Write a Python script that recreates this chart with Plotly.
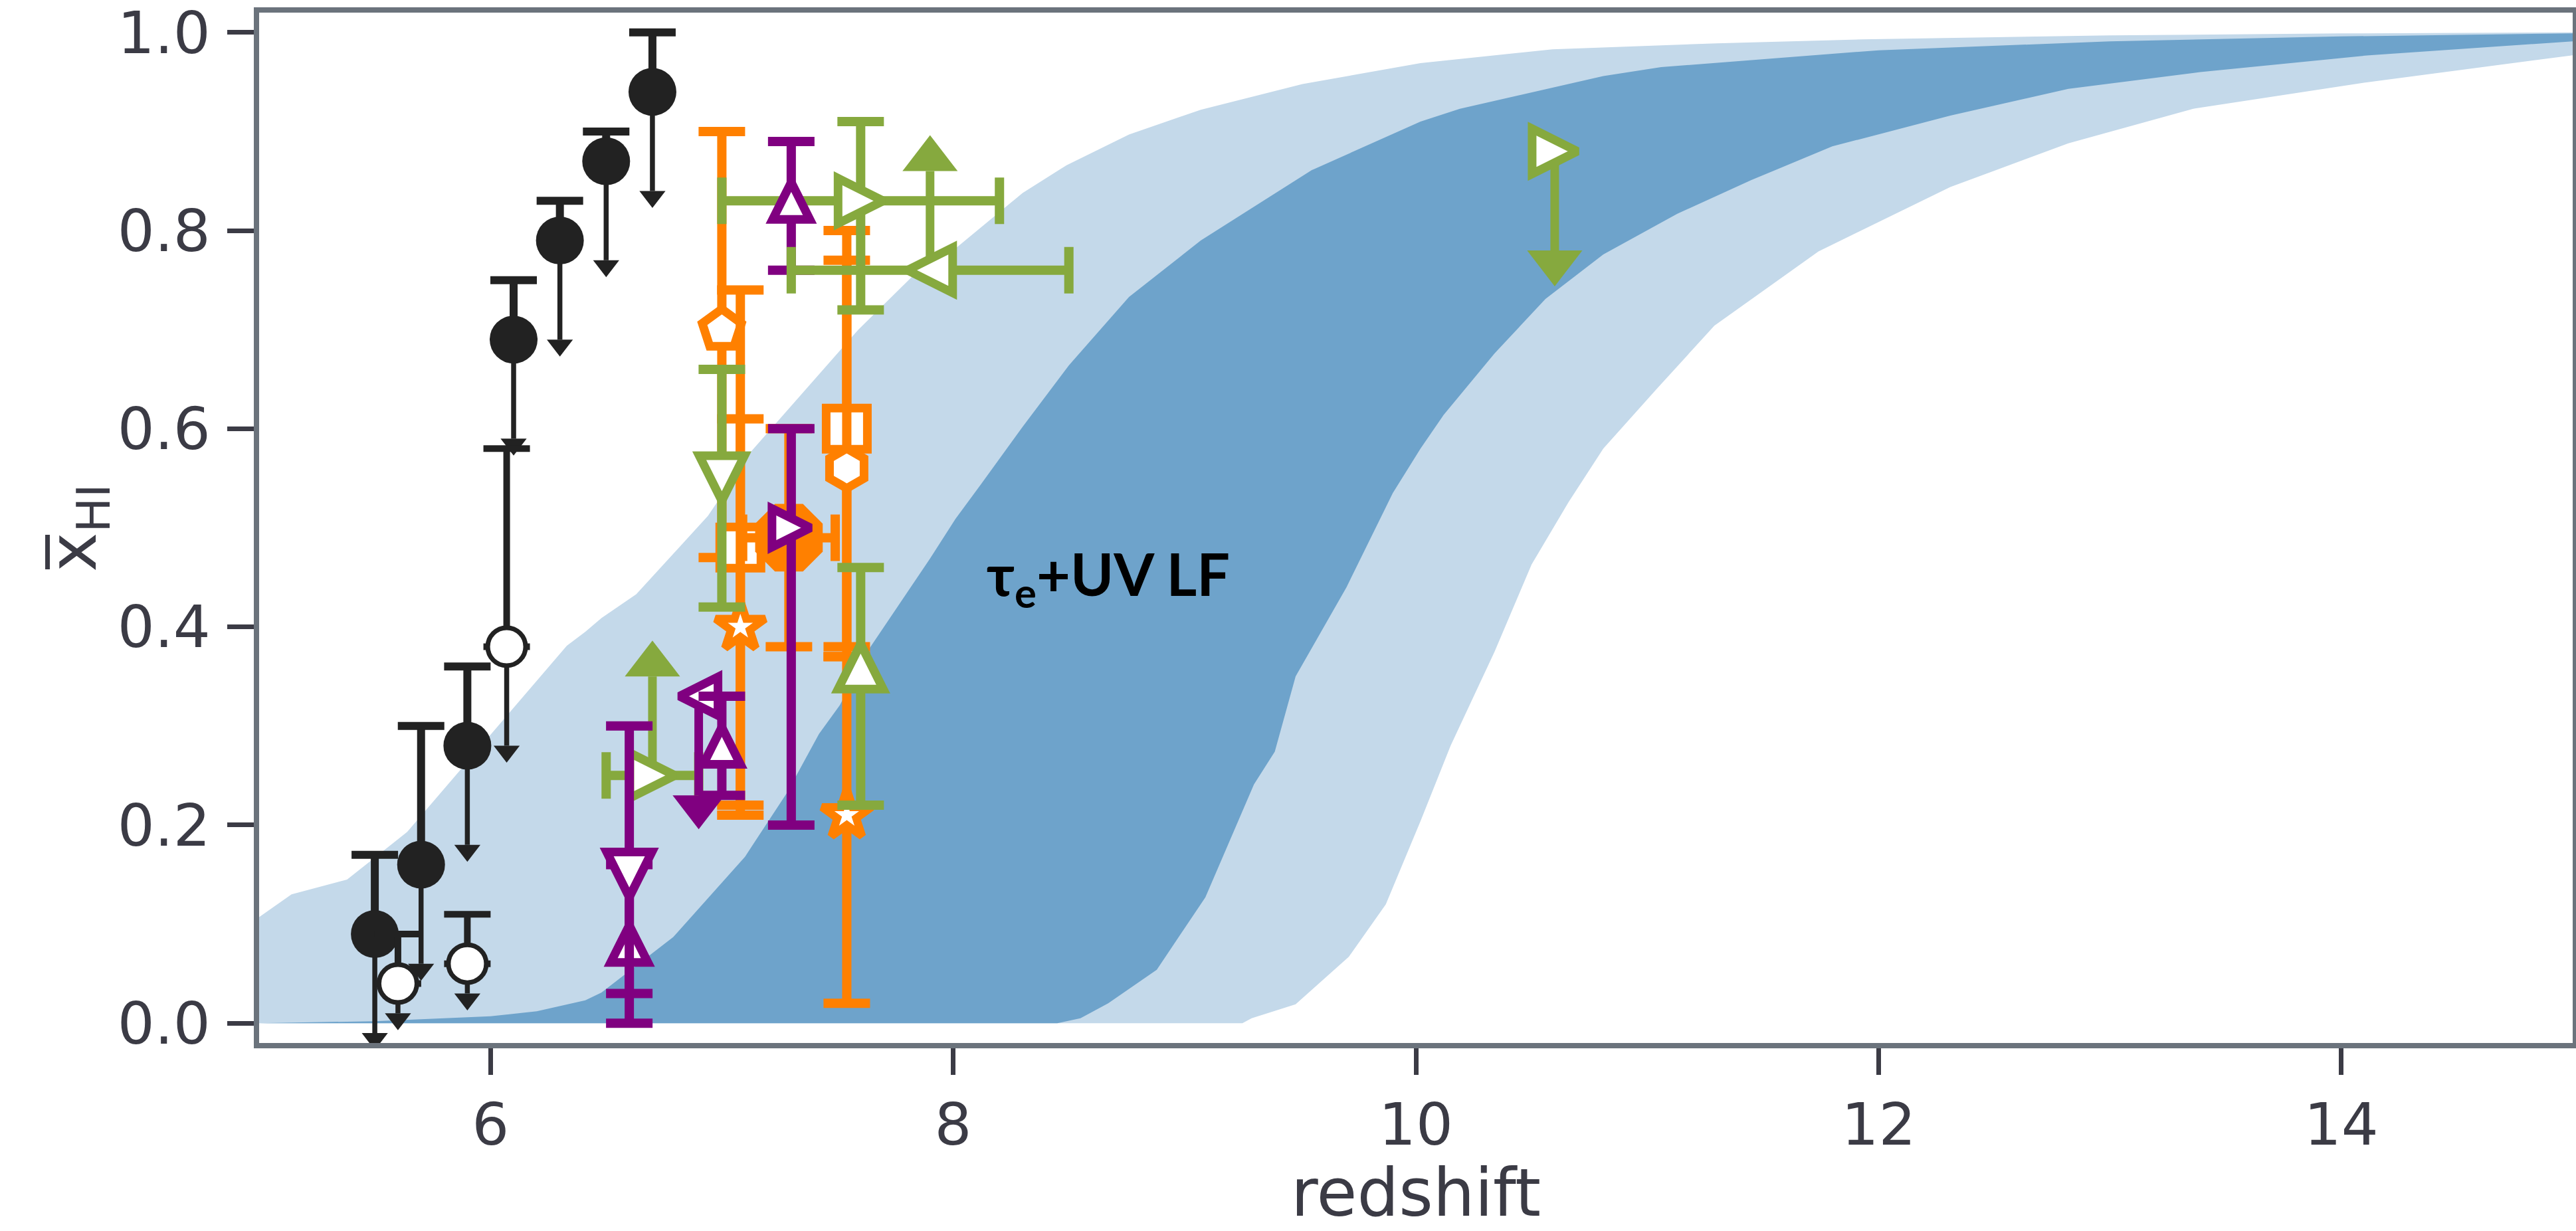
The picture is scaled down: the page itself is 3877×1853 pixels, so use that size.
import plotly.graph_objects as go

# ---------------- model bands (tau_e + UV LF) ----------------
light_hi_z = [5.0, 5.14, 5.38, 5.64, 6.33, 6.41, 6.48, 6.63, 6.94, 7.13, 7.59, 7.82, 8.01,
              8.30, 8.49, 8.76, 9.07, 9.51, 10.02, 10.59, 11.3, 11.93, 13.0, 14.0, 15.0]
light_hi_x = [0.107, 0.130, 0.145, 0.193, 0.381, 0.395, 0.409, 0.433, 0.512, 0.578, 0.700, 0.753, 0.782,
              0.838, 0.866, 0.897, 0.922, 0.948, 0.969, 0.983, 0.989, 0.993, 0.997, 0.999, 1.0]
light_lo_z = [5.0, 9.25, 9.29, 9.48, 9.71, 9.87, 10.02, 10.15, 10.34, 10.5, 10.66, 10.81, 11.04,
              11.29, 11.74, 12.31, 12.82, 13.36, 14.12, 15.0]
light_lo_x = [0.0, 0.0, 0.005, 0.019, 0.067, 0.12, 0.204, 0.28, 0.375, 0.463, 0.526, 0.58, 0.64,
              0.704, 0.779, 0.844, 0.888, 0.923, 0.95, 0.977]
dark_hi_z = [5.0, 5.5, 6.0, 6.2, 6.41, 6.48, 6.79, 7.10, 7.28, 7.42, 7.51, 7.64, 7.90, 8.01, 8.12,
             8.30, 8.50, 8.68, 8.76, 9.07, 9.55, 10.02, 10.19, 10.81, 11.06, 12.0, 13.0, 14.0, 15.0]
dark_hi_x = [0.0, 0.002, 0.007, 0.012, 0.023, 0.031, 0.087, 0.168, 0.232, 0.292, 0.321, 0.379, 0.469, 0.509, 0.544,
             0.602, 0.664, 0.712, 0.733, 0.79, 0.861, 0.91, 0.923, 0.956, 0.965, 0.982, 0.991, 0.996, 0.999]
dark_lo_z = [5.0, 8.45, 8.55, 8.67, 8.88, 9.09, 9.30, 9.39, 9.48, 9.70, 9.90, 10.02, 10.12, 10.34,
             10.56, 10.81, 11.13, 11.45, 11.8, 12.31, 12.82, 13.39, 14.12, 15.0]
dark_lo_x = [0.0, 0.0, 0.005, 0.02, 0.054, 0.127, 0.241, 0.274, 0.35, 0.44, 0.535, 0.58, 0.614, 0.676,
             0.731, 0.776, 0.817, 0.851, 0.885, 0.916, 0.943, 0.96, 0.977, 0.991]

# ---------------- black filled circles (upper limits) ----------------
blk_z = [5.5, 5.7, 5.9, 6.1, 6.3, 6.5, 6.7]
blk_xhi = [0.09, 0.16, 0.28, 0.69, 0.79, 0.87, 0.94]
blk_err_up = [0.08, 0.14, 0.08, 0.06, 0.04, 0.03, 0.06]
blk_arrow = [-0.10, -0.10, -0.10, -0.10, -0.10, -0.10, -0.10]

# ---------------- black open circles (upper limits) ----------------
opn_z = [5.6, 5.9, 6.07]
opn_xhi = [0.04, 0.06, 0.38]
opn_err_up = [0.05, 0.05, 0.20]
opn_arrow = [-0.03, -0.03, -0.10]

# ---------------- orange points ----------------
or_z = [7.00, 7.08, 7.08, 7.29, 7.54, 7.54, 7.54]
or_xhi = [0.70, 0.48, 0.40, 0.49, 0.60, 0.56, 0.21]
or_err_up = [0.20, 0.26, 0.21, 0.11, 0.20, 0.21, 0.16]
or_err_lo = [0.23, 0.26, 0.19, 0.11, 0.22, 0.19, 0.19]
or_err_z = [0, 0, 0, 0.20, 0, 0, 0]

# ---------------- purple points ----------------
pu_z = [7.30, 7.30, 6.90, 7.00, 6.60, 6.60]
pu_xhi = [0.83, 0.50, 0.33, 0.28, 0.08, 0.15]
pu_err_up = [0.06, 0.10, 0, 0.05, 0.08, 0.15]
pu_err_lo = [0.07, 0.30, 0, 0.05, 0.08, 0.12]
pu_arrow = [0, 0, -0.10, 0, 0, 0]

# ---------------- green points ----------------
gr_z = [7.60, 6.70, 7.90, 7.00, 7.60, 10.60]
gr_xhi = [0.83, 0.25, 0.76, 0.55, 0.36, 0.88]
gr_err_up = [0.08, 0, 0, 0.11, 0.10, 0]
gr_err_lo = [0.11, 0, 0, 0.13, 0.14, 0]
gr_err_z = [0.60, 0.20, 0.60, 0, 0, 0]
gr_arrow = [0, 0.10, 0.10, 0, 0, -0.10]

x_ticks = [6, 8, 10, 12, 14]
y_ticks = [0.0, 0.2, 0.4, 0.6, 0.8, 1.0]
y_ticktext = ['0.0', '0.2', '0.4', '0.6', '0.8', '1.0']
band_label = '<b>τ<sub>e</sub>+UV LF</b>'

# ---------------- styles ----------------
LIGHT = '#c4d9ea'
DARK = '#6ea3cb'
ORANGE = '#ff8000'
PURPLE = '#800080'
GREEN = '#86a93e'
BLACK = '#222222'
SPINE = '#6b737c'
TICK = '#3b3b45'

or_style = [('pentagon', 62), ('square', 62), ('star', 56), ('octagon', 110),
            ('square', 62), ('hexagon', 60), ('star', 56)]
pu_style = [('up', 56), ('right', 58), ('left', 58), ('up', 56), ('up', 56), ('down', 68)]
gr_style = [('right', 68), ('right', 68), ('left', 68), ('down', 68), ('up', 68), ('right', 68)]

TRI = {'up': 180, 'down': 0, 'right': -90, 'left': 90}

fig = go.Figure()

# bands
fig.add_trace(go.Scatter(x=light_hi_z + light_lo_z[::-1], y=light_hi_x + light_lo_x[::-1],
                         mode='lines', fill='toself', fillcolor=LIGHT, line=dict(width=0),
                         hoverinfo='skip'))
fig.add_trace(go.Scatter(x=dark_hi_z + dark_lo_z[::-1], y=dark_hi_x + dark_lo_x[::-1],
                         mode='lines', fill='toself', fillcolor=DARK, line=dict(width=0),
                         hoverinfo='skip'))


def add_limit(z, v, length, color, lw, caret):
    end = v + length
    fig.add_trace(go.Scatter(x=[z, z], y=[v, end], mode='lines',
                             line=dict(color=color, width=lw), hoverinfo='skip'))
    fig.add_trace(go.Scatter(x=[z], y=[end], mode='markers', hoverinfo='skip',
                             marker=dict(symbol='triangle-down', size=caret,
                                         angle=180 if length > 0 else 0,
                                         standoff=caret / 4.0, color=color,
                                         line=dict(width=0))))


def add_point(z, v, color, style, up=0, lo=0, zerr=0, arrow=0, caret=70):
    shape, size = style
    if arrow:
        add_limit(z, v, arrow, color, 13, caret)
    mk = dict(size=size, color='white', line=dict(color=color, width=13))
    if shape in TRI:
        mk.update(symbol='arrow-down', angle=TRI[shape], standoff=size / 2.0)
    else:
        mk.update(symbol=shape)
        if shape == 'octagon':
            mk.update(color=color, line=dict(width=0))
        if shape == 'star':
            mk.update(line=dict(color=color, width=12))
    tr = go.Scatter(x=[z], y=[v], mode='markers', marker=mk, hoverinfo='skip')
    if up or lo:
        tr.error_y = dict(type='data', symmetric=False, array=[up], arrayminus=[lo],
                          color=color, thickness=14, width=35)
    if zerr:
        tr.error_x = dict(type='data', symmetric=True, array=[zerr],
                          color=color, thickness=14, width=35)
    fig.add_trace(tr)


# black filled circles
for z, v, a in zip(blk_z, blk_xhi, blk_arrow):
    add_limit(z, v, a, BLACK, 7.5, 34)
fig.add_trace(go.Scatter(x=blk_z, y=blk_xhi, mode='markers', hoverinfo='skip',
                         marker=dict(symbol='circle', size=72, color=BLACK, line=dict(width=0)),
                         error_y=dict(type='data', symmetric=False, array=blk_err_up,
                                      arrayminus=[0] * len(blk_z), color=BLACK,
                                      thickness=12, width=35)))
# black open circles
for z, v, a in zip(opn_z, opn_xhi, opn_arrow):
    add_limit(z, v, a, BLACK, 7.5, 34)
fig.add_trace(go.Scatter(x=opn_z, y=opn_xhi, mode='markers', hoverinfo='skip',
                         marker=dict(symbol='circle', size=57, color='white',
                                     line=dict(color=BLACK, width=7)),
                         error_y=dict(type='data', symmetric=False, array=opn_err_up,
                                      arrayminus=[0] * len(opn_z), color=BLACK,
                                      thickness=10, width=35)))

# orange
for i in range(len(or_z)):
    add_point(or_z[i], or_xhi[i], ORANGE, or_style[i], or_err_up[i], or_err_lo[i], or_err_z[i])

# green (first group)
for i in [0, 1]:
    add_point(gr_z[i], gr_xhi[i], GREEN, gr_style[i], gr_err_up[i], gr_err_lo[i], gr_err_z[i],
              gr_arrow[i], 72)
# purple
for i in range(len(pu_z)):
    add_point(pu_z[i], pu_xhi[i], PURPLE, pu_style[i], pu_err_up[i], pu_err_lo[i], 0,
              pu_arrow[i], 68)
# green (rest)
for i in range(2, len(gr_z)):
    add_point(gr_z[i], gr_xhi[i], GREEN, gr_style[i], gr_err_up[i], gr_err_lo[i], gr_err_z[i],
              gr_arrow[i], 72)

fig.add_annotation(x=8.14, y=0.45, xref='x', yref='y', text=band_label, showarrow=False,
                   xanchor='left', yanchor='middle',
                   font=dict(family='Lato, Open Sans, sans-serif', size=88, color='black'))

fig.update_layout(
    width=3877, height=1853,
    margin=dict(l=390, r=5, t=19, b=283),
    paper_bgcolor='white', plot_bgcolor='white',
    showlegend=False,
    font=dict(family='DejaVu Sans', color=TICK),
)
axis_common = dict(ticks='outside', ticklen=40, tickwidth=7, tickcolor=TICK,
                   showline=True, linewidth=7.5, linecolor=SPINE, mirror=True,
                   showgrid=False, zeroline=False, automargin=False,
                   ticklabeloverflow='allow',
                   tickfont=dict(family='DejaVu Sans', size=88, color=TICK))
fig.update_xaxes(range=[5, 15], tickmode='array', tickvals=x_ticks,
                 title=dict(text='redshift', font=dict(family='DejaVu Sans', size=99, color=TICK),
                            standoff=30),
                 **axis_common)
fig.update_yaxes(range=[-0.02, 1.02], tickmode='array', tickvals=y_ticks, ticktext=y_ticktext,
                 ticklabelstandoff=8,
                 title=dict(text='x\u0305<sub>HI</sub>',
                            font=dict(family='DejaVu Sans', size=100, color=TICK),
                            standoff=2),
                 **axis_common)

fig.write_html('out.html')
